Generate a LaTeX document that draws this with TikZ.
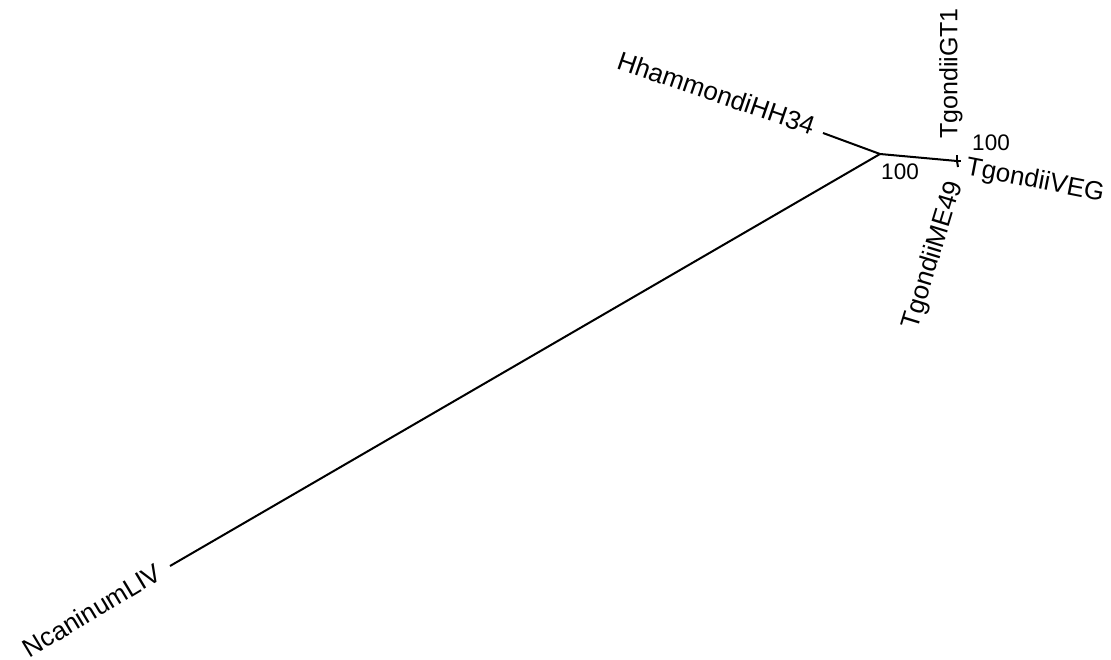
\documentclass[tikz,border=0pt]{standalone}
\usepackage{fontspec}
\setmainfont{Liberation Sans}
\begin{document}
\begin{tikzpicture}[x=1pt,y=-1pt,
  br/.style={line width=2pt,black},
  leaf/.style={inner sep=0pt,font=\fontsize{26}{30}\selectfont},
  boot/.style={inner sep=0pt,font=\fontsize{22.5}{26}\selectfont}]
\useasboundingbox (0,0) rectangle (1111,659);
\coordinate (root) at (880,154);
\coordinate (tg) at (957,161);
\coordinate (hh) at (823,133);
\coordinate (nc) at (170,566);
\coordinate (gt1) at (957,155);
\coordinate (me49) at (958,167);
\coordinate (veg) at (961,161);
\draw[br] (root) -- (hh);
\draw[br] (root) -- (nc);
\draw[br] (root) -- (tg);
\draw[br] (tg) -- (gt1);
\draw[br] (tg) -- (me49);
\draw[br] (tg) -- (veg);
\node[leaf,anchor=south east,rotate=-19] (lhh) at (811,136) {HhammondiHH34};
\node[leaf,anchor=east,rotate=31] (lnc) at (159,570) {NcaninumLIV};
\node[leaf,anchor=west,rotate=90,font=\fontsize{25}{30}\selectfont] (lgt1) at (951,139) {TgondiiGT1};
\node[leaf,anchor=east,rotate=73] (lme49) at (956,182) {TgondiiME49};
\node[leaf,anchor=west,rotate=-11] (lveg) at (966,168) {TgondiiVEG};
\node[boot] (b1) at (900,172) {100};
\node[boot] (b2) at (991,143) {100};
\end{tikzpicture}
\end{document}
